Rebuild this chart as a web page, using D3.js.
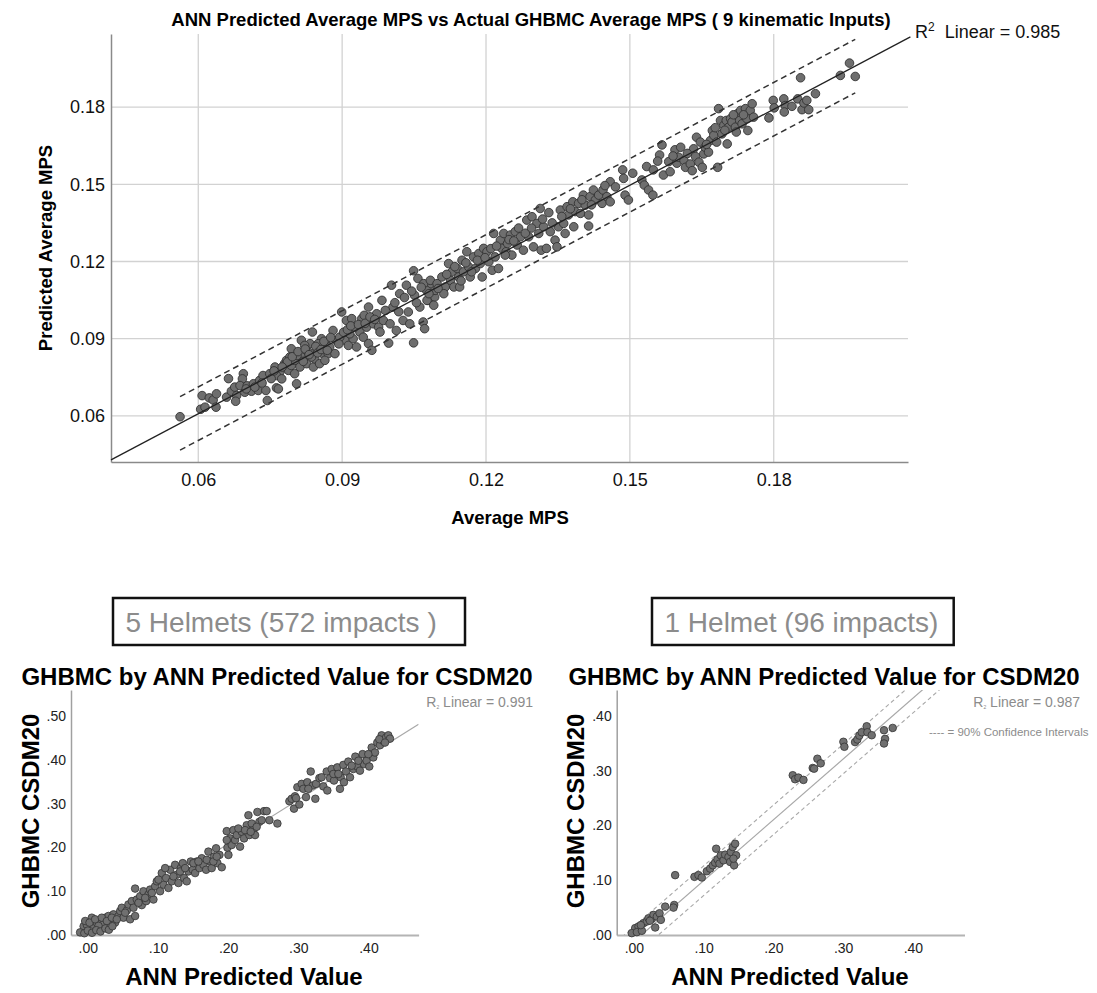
<!DOCTYPE html>
<html lang="en">
<head>
<meta charset="utf-8">
<title>ANN Predicted vs GHBMC</title>
<style>
    body { margin: 0; background: #fff; }
    text { font-family: "Liberation Sans", Arial, sans-serif; }
</style>
</head>
<body>
<script src="https://cdnjs.cloudflare.com/ajax/libs/d3/7.8.5/d3.min.js"></script>
<script>

    // ---- top chart: actual GHBMC average MPS vs ANN predicted
    var mpsPoints = [
        [0.0562,0.0597],[0.0605,0.0626],[0.0614,0.0634],[0.0608,0.0679],[0.0623,0.0670],[0.0631,0.0662],[0.0637,0.0634],[0.0638,0.0686],
        [0.0663,0.0745],[0.0659,0.0673],[0.0669,0.0696],[0.0676,0.0712],[0.0680,0.0679],[0.0678,0.0657],[0.0694,0.0764],[0.0692,0.0744],
        [0.0697,0.0692],[0.0687,0.0718],[0.0702,0.0717],[0.0711,0.0696],[0.0715,0.0725],[0.0725,0.0699],[0.0728,0.0738],[0.0741,0.0699],
        [0.0744,0.0660],[0.0735,0.0757],[0.0749,0.0764],[0.0760,0.0790],[0.0763,0.0709],[0.0767,0.0705],[0.0770,0.0770],[0.0780,0.0803],
        [0.0788,0.0777],[0.0784,0.0816],[0.0794,0.0796],[0.0798,0.0842],[0.0801,0.0816],[0.0805,0.0725],[0.0801,0.0764],[0.0812,0.0790],
        [0.0815,0.0894],[0.0817,0.0829],[0.0826,0.0803],[0.0829,0.0848],[0.0833,0.0881],[0.0838,0.0926],[0.0840,0.0790],[0.0843,0.0822],
        [0.0847,0.0861],[0.0853,0.0803],[0.0857,0.0900],[0.0860,0.0842],[0.0867,0.0874],[0.0871,0.0842],[0.0881,0.0932],[0.0885,0.0842],
        [0.0888,0.0894],[0.0899,0.1004],[0.0901,0.0913],[0.0906,0.0894],[0.0909,0.0971],[0.0913,0.0874],[0.0920,0.0978],[0.0923,0.0900],
        [0.0930,0.0868],[0.0937,0.0926],[0.0941,0.0978],[0.0946,0.0991],[0.0951,0.0945],[0.0955,0.1023],[0.0955,0.0881],[0.0962,0.0855],
        [0.0965,0.0958],[0.0972,0.0997],[0.0976,0.0945],[0.0979,0.0926],[0.0983,0.1049],[0.0986,0.0971],[0.0997,0.0883],[0.1000,0.0958],
        [0.1003,0.1108],[0.1006,0.1023],[0.1013,0.0932],[0.1020,0.1075],[0.1027,0.0971],[0.1034,0.1108],[0.1038,0.1004],[0.1041,0.0958],
        [0.1049,0.0884],[0.1049,0.1164],[0.1051,0.1069],[0.1058,0.1134],[0.1062,0.1023],[0.1069,0.0965],[0.1072,0.0939],[0.1076,0.1088],
        [0.1079,0.1049],[0.1086,0.1114],[0.1093,0.1062],[0.1070,0.1114],[0.1084,0.1127],[0.1094,0.1088],[0.1077,0.1049],[0.1098,0.1114],
        [0.1091,0.1030],[0.0791,0.0829],[0.0794,0.0861],[0.0806,0.0835],[0.0822,0.0874],[0.0836,0.0829],[0.0850,0.0881],[0.0864,0.0816],
        [0.0874,0.0868],[0.0895,0.0906],[0.0926,0.0945],[0.0916,0.0919],[0.0944,0.0906],[0.0763,0.0757],[0.0774,0.0744],
        [0.1108,0.1140],[0.1115,0.1101],[0.1112,0.1075],[0.1122,0.1192],[0.1126,0.1127],[0.1129,0.1160],[0.1133,0.1101],[0.1140,0.1173],
        [0.1143,0.1140],[0.1145,0.1101],[0.1150,0.1205],[0.1153,0.1160],[0.1160,0.1238],[0.1164,0.1179],[0.1167,0.1140],[0.1174,0.1218],
        [0.1178,0.1173],[0.1185,0.1231],[0.1188,0.1192],[0.1192,0.1140],[0.1195,0.1251],[0.1202,0.1238],[0.1206,0.1199],[0.1213,0.1166],
        [0.1216,0.1309],[0.1219,0.1218],[0.1226,0.1173],[0.1230,0.1283],[0.1233,0.1251],[0.1237,0.1309],[0.1242,0.1238],[0.1245,0.1270],
        [0.1251,0.1303],[0.1254,0.1225],[0.1261,0.1316],[0.1265,0.1264],[0.1272,0.1296],[0.1278,0.1244],[0.1285,0.1361],[0.1289,0.1296],
        [0.1296,0.1374],[0.1299,0.1257],[0.1306,0.1348],[0.1310,0.1309],[0.1313,0.1406],[0.1315,0.1244],[0.1320,0.1335],[0.1326,0.1251],
        [0.1331,0.1390],[0.1334,0.1316],[0.1344,0.1283],[0.1348,0.1257],[0.1351,0.1335],[0.1355,0.1400],[0.1362,0.1348],[0.1365,0.1309],
        [0.1369,0.1413],[0.1372,0.1381],[0.1381,0.1432],[0.1383,0.1335],[0.1386,0.1394],[0.1393,0.1426],[0.1397,0.1387],[0.1403,0.1458],
        [0.1407,0.1419],[0.1414,0.1381],[0.1414,0.1338],[0.1417,0.1452],[0.1424,0.1478],[0.1428,0.1439],[0.1435,0.1458],[0.1442,0.1426],
        [0.1444,0.1478],[0.1452,0.1452],[0.1459,0.1510],[0.1459,0.1432],[0.1485,0.1556],[0.1487,0.1523],[0.1490,0.1458],[0.1497,0.1439],
        [0.1506,0.1543],[0.1525,0.1517],[0.1530,0.1497],[0.1535,0.1569],[0.1539,0.1478],[0.1548,0.1458],[0.1549,0.1556],[0.1562,0.1614],
        [0.1567,0.1653],[0.1570,0.1536],[0.1581,0.1588],[0.1584,0.1549],[0.1594,0.1634],[0.1598,0.1582],
        [0.1606,0.1644],[0.1602,0.1605],[0.1613,0.1592],[0.1616,0.1566],[0.1626,0.1579],[0.1630,0.1553],[0.1633,0.1638],[0.1637,0.1608],
        [0.1639,0.1683],[0.1644,0.1586],[0.1647,0.1664],[0.1651,0.1566],[0.1654,0.1618],[0.1657,0.1644],[0.1664,0.1625],[0.1668,0.1670],
        [0.1672,0.1709],[0.1675,0.1690],[0.1681,0.1664],[0.1683,0.1566],[0.1685,0.1794],[0.1689,0.1748],[0.1692,0.1696],[0.1696,0.1729],
        [0.1701,0.1748],[0.1703,0.1657],[0.1706,0.1722],[0.1710,0.1755],[0.1713,0.1742],[0.1720,0.1722],[0.1722,0.1703],[0.1724,0.1774],
        [0.1729,0.1748],[0.1731,0.1787],[0.1734,0.1735],[0.1741,0.1794],[0.1744,0.1755],[0.1746,0.1709],[0.1751,0.1787],[0.1755,0.1813],
        [0.1758,0.1761],[0.1790,0.1758],[0.1799,0.1826],[0.1801,0.1797],[0.1821,0.1832],[0.1824,0.1806],[0.1822,0.1781],[0.1838,0.1803],
        [0.1850,0.1832],[0.1856,0.1914],[0.1859,0.1790],[0.1863,0.1816],[0.1869,0.1826],[0.1873,0.1790],[0.1887,0.1852],[0.1939,0.1923],
        [0.1958,0.1971],[0.1970,0.1919],
        [0.0786,0.0810],[0.0796,0.0830],[0.0808,0.0850],[0.0819,0.0812],[0.0823,0.0860],[0.0831,0.0838],[0.0845,0.0870],[0.0849,0.0845],
        [0.0856,0.0858],[0.0862,0.0890],[0.0869,0.0855],[0.0876,0.0905],[0.0893,0.0880],[0.0903,0.0925],[0.0911,0.0935],[0.0918,0.0950],
        [0.0934,0.0955],[0.0948,0.0960],[0.0958,0.0985],[0.0968,0.0975],[0.0990,0.1010],[0.1010,0.1040],[0.1018,0.1005],[0.1030,0.1060],
        [0.1045,0.1085],[0.1055,0.1040],[0.1065,0.1100],[0.1081,0.1075],[0.1100,0.1095],[0.1118,0.1150],[0.1135,0.1180],[0.1148,0.1125],
        [0.1158,0.1195],[0.1170,0.1160],[0.1182,0.1205],[0.1198,0.1215],[0.1210,0.1250],[0.1222,0.1260],[0.1240,0.1225],[0.1248,0.1285],
        [0.1258,0.1280],[0.1268,0.1330],[0.1282,0.1310],[0.1295,0.1330],[0.1318,0.1365],[0.1338,0.1350],[0.1358,0.1375],[0.1376,0.1405],
        [0.1400,0.1440],[0.1420,0.1420],[0.1448,0.1495],[0.1470,0.1490],[0.1558,0.1590],[0.1590,0.1610],[0.1620,0.1620],[0.1660,0.1655],
        [0.1678,0.1720],[0.1698,0.1710],[0.1716,0.1770],[0.1737,0.1770],[0.0700,0.0705],[0.0718,0.0712],[0.0733,0.0728],[0.0752,0.0745],
        [0.0758,0.0775],[0.0775,0.0790]
    ];
    var mpsTicks = [0.06, 0.09, 0.12, 0.15, 0.18];
    var mpsFit = {intercept: 0.0017, slope: 0.986, r2: "0.985", band: 0.0104, from: 0.0562, to: 0.197};

    // ---- bottom left: 5 helmets (572 impacts), [ANN predicted, GHBMC CSDM20]
    var fiveHelmetPoints = [
        [-0.0060,0.0200],[-0.0014,0.0230],[0.0057,0.0396],[0.0080,0.0230],[0.0128,0.0283],[0.0176,0.0320],[0.0223,0.0245],[0.0247,0.0396],
        [0.0294,0.0434],[0.0318,0.0320],[0.0366,0.0472],[0.0389,0.0283],[0.0437,0.0434],[0.0461,0.0547],[0.0484,0.0623],[0.0508,0.0396],
        [0.0556,0.0562],[0.0579,0.0698],[0.0603,0.0359],[0.0627,0.0774],[0.0674,0.0434],[0.0674,0.1061],[0.0698,0.0811],[0.0746,0.0887],
        [0.0769,0.0683],[0.0793,0.1000],[0.0831,0.0774],[0.0864,0.0925],[0.0888,0.1038],[0.0935,0.0811],[0.0959,0.1114],[0.0983,0.1227],
        [0.1030,0.1000],[0.1054,0.1416],[0.1078,0.1151],[0.1116,0.1302],[0.1149,0.1076],[0.1173,0.1491],[0.1197,0.1227],[0.1244,0.1604],
        [0.1268,0.1378],[0.1292,0.1189],[0.1325,0.1529],[0.1353,0.1642],[0.1372,0.1302],[0.1410,0.1227],[0.1434,0.1453],[0.1467,0.1680],
        [0.1496,0.1491],[0.1529,0.1416],[0.1553,0.1680],[0.1591,0.1529],[0.1624,0.1755],[0.1648,0.1604],[0.1686,0.1491],[0.1719,0.1906],
        [0.1743,0.1680],[0.1766,0.1529],[0.1800,0.1793],[0.1828,0.1982],[0.1847,0.1642],[0.1876,0.1831],[0.1909,0.1548],[0.1980,0.2374],
        [0.1990,0.1997],[0.2004,0.1831],[0.2028,0.2208],[0.2051,0.2057],[0.2075,0.2397],[0.2099,0.2171],[0.2123,0.2284],[0.2170,0.2020],
        [0.2194,0.2359],[0.2227,0.2208],[0.2265,0.2510],[0.2289,0.2737],[0.2303,0.2284],[0.2336,0.2548],[0.2360,0.2397],[0.2384,0.2284],
        [0.2417,0.2812],[0.2445,0.2586],[0.2479,0.2624],[0.2512,0.2831],[0.2550,0.2831],[0.2588,0.2624],[0.2702,0.2548],[0.2873,0.3058],
        [0.2906,0.3114],[0.2939,0.2888],[0.2953,0.3171],[0.2987,0.3378],[0.3015,0.2982],[0.3048,0.3454],[0.3072,0.3341],[0.3110,0.3152],
        [0.3129,0.3492],[0.3177,0.3737],[0.3205,0.3416],[0.3243,0.3114],[0.3253,0.3454],[0.3301,0.3586],[0.3357,0.3397],[0.3405,0.3737],
        [0.3414,0.3303],[0.3452,0.3586],[0.3476,0.3794],[0.3509,0.3530],[0.3537,0.3681],[0.3557,0.3832],[0.3594,0.3341],[0.3604,0.3605],
        [0.3642,0.3888],[0.3651,0.3492],[0.3680,0.3737],[0.3713,0.3964],[0.3737,0.3605],[0.3785,0.3794],[0.3813,0.4077],[0.3841,0.3851],
        [0.3879,0.3756],[0.3917,0.4134],[0.3936,0.3907],[0.3974,0.3983],[0.4012,0.3851],[0.4046,0.4285],[0.4069,0.4058],[0.4093,0.4171],
        [0.4126,0.4398],[0.4164,0.4337],[0.4188,0.4564],[0.4212,0.4436],[0.4250,0.4511],[0.4283,0.4564],[0.4307,0.4488],
        [-0.0038,0.0320],[0.0024,0.0283],[0.0104,0.0359],[0.0152,0.0208],[0.0199,0.0396],[0.0271,0.0320],[0.0342,0.0396],[0.0413,0.0359],
        [0.0532,0.0510],[0.0651,0.0623],[0.0722,0.0736],[0.0817,0.0849],[0.0912,0.0962],[0.1007,0.1265],[0.1102,0.1529],[0.1220,0.1340],
        [0.1315,0.1453],[0.1387,0.1529],[0.1505,0.1642],[0.1576,0.1680],[0.1695,0.1718],[0.1790,0.1680],[0.1838,0.1793],[0.1980,0.2171],
        [0.2146,0.2435],[0.2241,0.2397],[0.2322,0.2359],[0.2407,0.2473],[0.2968,0.3129],[0.3143,0.3341],[0.3333,0.3605],[0.3500,0.3681],
        [0.3571,0.3681],[0.3761,0.3870],[0.3856,0.3983],[0.3998,0.4134],[0.4155,0.4474],[0.4236,0.4398],
        [-0.0110,0.0060],[-0.0050,0.0040],[0.0000,0.0100],[0.0060,0.0050],[0.0120,0.0110],[0.0180,0.0080],[0.0250,0.0150],[0.0300,0.0120],
        [0.0350,0.0200]
    ];
    var fiveHelmetFit = {intercept: 0.0068, slope: 1.0075, r2: "0.991"};

    // ---- bottom right: 1 helmet (96 impacts)
    var oneHelmetPoints = [
        [0.0019,0.0125],[0.0067,0.0155],[0.0138,0.0216],[0.0186,0.0246],[0.0210,0.0306],[0.0258,0.0294],[0.0282,0.0367],[0.0306,0.0137],
        [0.0330,0.0337],[0.0368,0.0397],[0.0387,0.0276],[0.0449,0.0518],[0.0578,0.0548],[0.0568,0.0500],[0.0592,0.1092],[0.0869,0.1061],
        [0.0926,0.1092],[0.0974,0.1049],[0.1046,0.1164],[0.1094,0.1212],[0.1132,0.1272],[0.1165,0.1320],[0.1180,0.1574],[0.1199,0.1381],
        [0.1227,0.1303],[0.1246,0.1454],[0.1285,0.1363],[0.1309,0.1466],[0.1356,0.1424],[0.1380,0.1333],[0.1390,0.1514],[0.1418,0.1605],
        [0.1437,0.1272],[0.1452,0.1665],[0.1466,0.1454],[0.1428,0.1393],[0.2278,0.2915],[0.2311,0.2842],[0.2359,0.2872],[0.2431,0.2830],
        [0.2564,0.3047],[0.2584,0.3035],[0.2631,0.3216],[0.2679,0.3132],[0.3004,0.3525],[0.3018,0.3434],[0.3171,0.3519],[0.3204,0.3567],
        [0.3233,0.3639],[0.3267,0.3699],[0.3338,0.3808],[0.3348,0.3699],[0.3410,0.3645],[0.3586,0.3736],[0.3601,0.3578],[0.3586,0.3494],
        [0.3711,0.3778],[-0.0030,0.0034],[0.0043,0.0052],[0.0115,0.0077],[0.0100,0.0180],[0.0230,0.0260]
    ];
    var oneHelmetFit = {intercept: -0.012, slope: 1.11, r2: "0.987", band: 0.027};

    var panelTicks = [0, 0.1, 0.2, 0.3, 0.4];
    var panelTicksLeftY = [0, 0.1, 0.2, 0.3, 0.4, 0.5];

    var svg = d3.select("body").append("svg")
        .attr("width", 1097)
        .attr("height", 993);

    var font = '"Liberation Sans", Arial, sans-serif';

    // ================= top chart =================
    var mx = d3.scaleLinear().domain([0.0418, 0.208]).range([111, 908]);
    var my = d3.scaleLinear().domain([0.0421, 0.2084]).range([462, 34]);

    var gTop = svg.append("g");

    gTop.selectAll(".vgrid").data(mpsTicks).enter().append("line")
        .attr("x1", function (d) { return mx(d); })
        .attr("x2", function (d) { return mx(d); })
        .attr("y1", my.range()[1])
        .attr("y2", my.range()[0])
        .attr("stroke", "#d2d2d2")
        .attr("stroke-width", 1.3);
    gTop.selectAll(".hgrid").data(mpsTicks).enter().append("line")
        .attr("x1", mx.range()[0])
        .attr("x2", mx.range()[1])
        .attr("y1", function (d) { return my(d); })
        .attr("y2", function (d) { return my(d); })
        .attr("stroke", "#d2d2d2")
        .attr("stroke-width", 1.3);

    var topX = gTop.append("g")
        .attr("transform", "translate(0," + my.range()[0] + ")")
        .call(d3.axisBottom(mx).tickValues(mpsTicks).tickSize(0).tickSizeOuter(0).tickPadding(11).tickFormat(d3.format(".2f")))
        .attr("font-size", 18).attr("font-family", font).attr("color", "#111");
    topX.select(".domain").attr("stroke", "#8a8a8a").attr("stroke-width", 1.5);

    var topY = gTop.append("g")
        .attr("transform", "translate(" + mx.range()[0] + ",0)")
        .call(d3.axisLeft(my).tickValues(mpsTicks).tickSize(0).tickSizeOuter(0).tickPadding(6).tickFormat(d3.format(".2f")))
        .attr("font-size", 18).attr("font-family", font).attr("color", "#111");
    topY.select(".domain").attr("stroke", "#8a8a8a").attr("stroke-width", 1.5);

    gTop.selectAll(".pt").data(mpsPoints).enter().append("circle")
        .attr("cx", function (d) { return mx(d[0]); })
        .attr("cy", function (d) { return my(d[1]); })
        .attr("r", 4.3)
        .attr("fill", "#6e6e6e")
        .attr("stroke", "#333")
        .attr("stroke-width", 0.9);

    var line = d3.line()
        .x(function (d) { return mx(d[0]); })
        .y(function (d) { return my(d[1]); });
    function fitAt(f, v, off) { return [v, f.intercept + f.slope * v + off]; }

    gTop.append("path")
        .attr("d", line([fitAt(mpsFit, 0.0418, 0), fitAt(mpsFit, 0.2085, 0)]))
        .attr("fill", "none").attr("stroke", "#222").attr("stroke-width", 1.3);
    [mpsFit.band, -mpsFit.band].forEach(function (off) {
        gTop.append("path")
            .attr("d", line([fitAt(mpsFit, mpsFit.from, off), fitAt(mpsFit, mpsFit.to, off)]))
            .attr("fill", "none").attr("stroke", "#333").attr("stroke-width", 1.5)
            .attr("stroke-dasharray", "6,4");
    });

    var r2Top = gTop.append("text").attr("x", 915).attr("y", 38).attr("font-size", 18).attr("fill", "#111");
    r2Top.append("tspan").text("R");
    r2Top.append("tspan").attr("font-size", 12).attr("dy", -7).text("2");
    r2Top.append("tspan").attr("dy", 7).text("\u00a0 Linear = " + mpsFit.r2);

    gTop.append("text")
        .attr("x", 531).attr("y", 26)
        .attr("text-anchor", "middle")
        .attr("font-size", 18.5).attr("font-weight", "bold")
        .text("ANN Predicted Average MPS vs Actual GHBMC Average MPS ( 9 kinematic Inputs)");
    gTop.append("text")
        .attr("transform", "translate(52,248) rotate(-90)")
        .attr("text-anchor", "middle")
        .attr("font-size", 18.5).attr("font-weight", "bold")
        .text("Predicted Average MPS");
    gTop.append("text")
        .attr("x", 510).attr("y", 524)
        .attr("text-anchor", "middle")
        .attr("font-size", 18.5).attr("font-weight", "bold")
        .text("Average MPS");

    // ================= bottom panels =================
    function dotFormat(d) {
        return d3.format(".2f")(d).replace(/^0/, "");
    }

    function drawPanel(p) {
        var g = svg.append("g");
        var x = d3.scaleLinear().domain(p.xDomain).range([p.left, p.right]);
        var y = d3.scaleLinear().domain(p.yDomain).range([935, 690]);

        svg.append("clipPath").attr("id", p.id)
            .append("rect")
            .attr("x", p.left).attr("y", 690)
            .attr("width", p.right - p.left).attr("height", 245);

        g.append("rect")
            .attr("x", p.box[0]).attr("y", 598)
            .attr("width", p.box[1] - p.box[0]).attr("height", 47)
            .attr("fill", "none").attr("stroke", "#111").attr("stroke-width", 2.5);
        g.append("text")
            .attr("x", p.box[0] + 12.5).attr("y", 632)
            .attr("font-size", 28).attr("fill", "#8c8c8c")
            .text(p.caption);

        g.append("text")
            .attr("x", p.titleX).attr("y", 685)
            .attr("text-anchor", "middle")
            .attr("font-size", 24).attr("font-weight", "bold")
            .text("GHBMC by ANN Predicted Value for CSDM20");

        var ax = g.append("g")
            .attr("transform", "translate(0,935)")
            .call(d3.axisBottom(x).tickValues(panelTicks).tickSize(0).tickSizeOuter(0).tickPadding(8).tickFormat(dotFormat))
            .attr("font-size", 14).attr("font-family", font).attr("color", "#222");
        ax.select(".domain").attr("stroke", "#b4b4b4").attr("stroke-width", 1.8);

        var ay = g.append("g")
            .attr("transform", "translate(" + p.left + ",0)")
            .call(d3.axisLeft(y).tickValues(p.yTicks).tickSize(0).tickSizeOuter(0).tickPadding(5).tickFormat(dotFormat))
            .attr("font-size", 14).attr("font-family", font).attr("color", "#222");
        ay.select(".domain").attr("stroke", "#a0a0a0").attr("stroke-width", 1.5);

        var pl = d3.line()
            .x(function (d) { return x(d[0]); })
            .y(function (d) { return y(d[1]); });
        var lines = g.append("g").attr("clip-path", "url(#" + p.id + ")");
        lines.append("path")
            .attr("d", pl([fitAt(p.fit, p.xDomain[0], 0), fitAt(p.fit, p.xDomain[1], 0)]))
            .attr("fill", "none").attr("stroke", "#a8a8a8").attr("stroke-width", 1.2);
        if (p.fit.band) {
            [p.fit.band, -p.fit.band].forEach(function (off) {
                lines.append("path")
                    .attr("d", pl([fitAt(p.fit, p.xDomain[0], off), fitAt(p.fit, p.xDomain[1], off)]))
                    .attr("fill", "none").attr("stroke", "#a8a8a8").attr("stroke-width", 1.1)
                    .attr("stroke-dasharray", "4,3");
            });
        }

        g.selectAll(".pt").data(p.points).enter().append("circle")
            .attr("cx", function (d) { return x(d[0]); })
            .attr("cy", function (d) { return y(d[1]); })
            .attr("r", 3.8)
            .attr("fill", "#707070")
            .attr("stroke", "#333")
            .attr("stroke-width", 0.8);

        var r2 = g.append("text")
            .attr("x", p.r2Right).attr("y", 707)
            .attr("text-anchor", "end")
            .attr("font-size", 14).attr("fill", "#8c8c8c");
        r2.append("tspan").text("R");
        r2.append("tspan").attr("font-size", 5).attr("dy", 2).text("2");
        r2.append("tspan").attr("dy", -2).text(" Linear = " + p.fit.r2);

        if (p.legend) {
            g.append("text")
                .attr("x", 929).attr("y", 736)
                .attr("font-size", 11.5).attr("fill", "#8c8c8c")
                .text(p.legend);
        }

        g.append("text")
            .attr("transform", "translate(" + (p.left - 32.5) + ",811) rotate(-90)")
            .attr("text-anchor", "middle")
            .attr("font-size", 24).attr("font-weight", "bold")
            .text("GHBMC CSDM20");
        g.append("text")
            .attr("x", p.xLabelX).attr("y", 985)
            .attr("text-anchor", "middle")
            .attr("font-size", 24).attr("font-weight", "bold")
            .text("ANN Predicted Value");
    }

    drawPanel({
        id: "clipLeft", left: 71, right: 418.6,
        xDomain: [-0.024, 0.4715], yDomain: [0, 0.56], yTicks: panelTicksLeftY,
        points: fiveHelmetPoints, fit: fiveHelmetFit,
        box: [113, 465], caption: "5 Helmets (572 impacts )",
        titleX: 277, xLabelX: 244, r2Right: 533
    });
    drawPanel({
        id: "clipRight", left: 616.7, right: 964.5,
        xDomain: [-0.0246, 0.474], yDomain: [0, 0.447], yTicks: panelTicks,
        points: oneHelmetPoints, fit: oneHelmetFit,
        box: [652, 953.7], caption: "1 Helmet (96 impacts)",
        titleX: 824, xLabelX: 790, r2Right: 1080,
        legend: "---- = 90% Confidence Intervals"
    });

</script>
</body>
</html>
